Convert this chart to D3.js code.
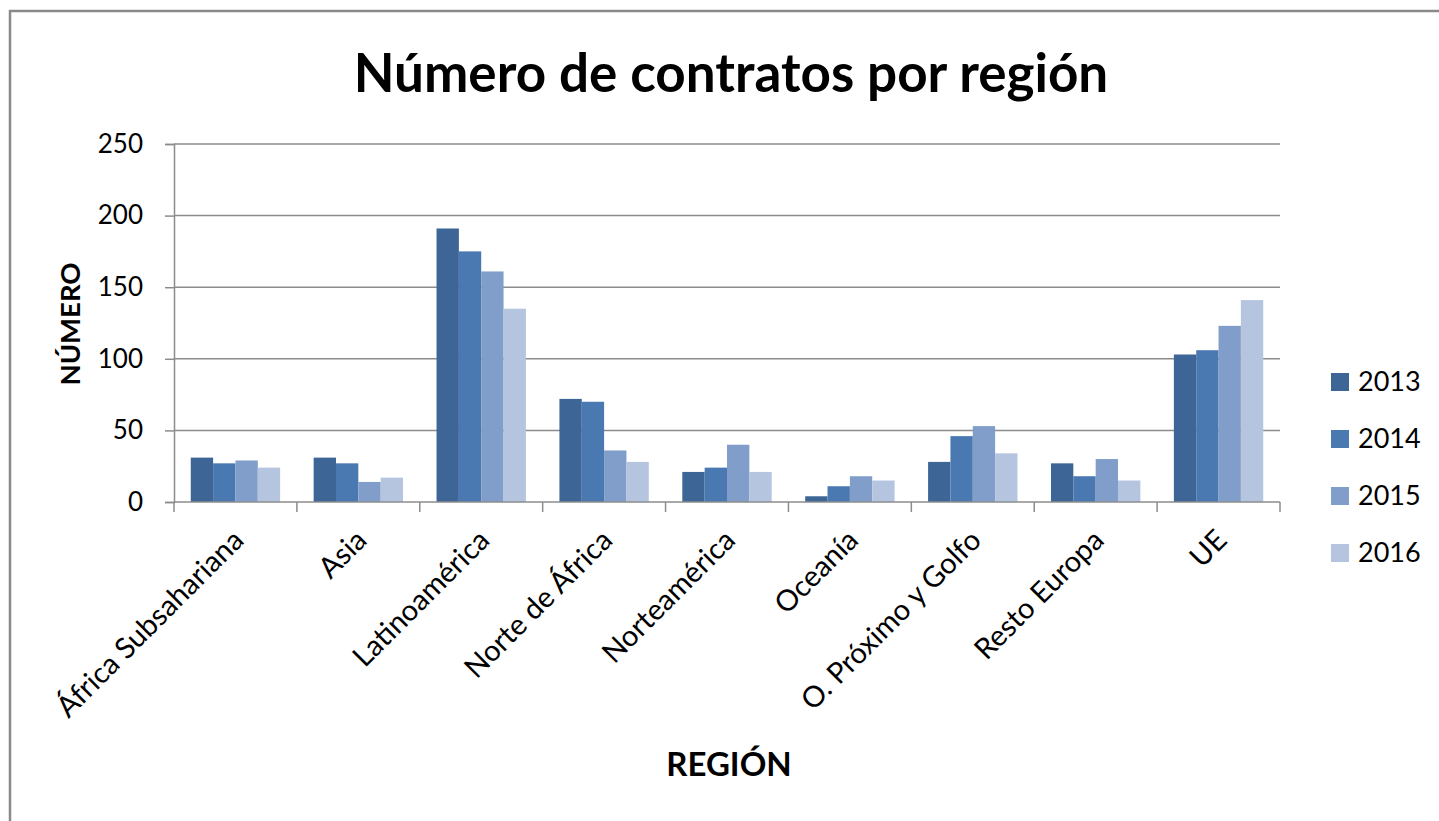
<!DOCTYPE html>
<meta charset="utf-8">
<title>Número de contratos por región</title>
<script src="https://d3js.org/d3.v7.min.js"></script>
<style>
    body { margin: 0; background: #fff; font-family: Lato, "Open Sans", sans-serif; }
    svg text { fill: #000; }
</style>
<body>
<script>
    // data
    var regions = ["África Subsahariana", "Asia", "Latinoamérica", "Norte de África",
        "Norteamérica", "Oceanía", "O. Próximo y Golfo", "Resto Europa", "UE"];
    var years = ["2013", "2014", "2015", "2016"];
    var v2013 = [31, 31, 191, 72, 21, 4, 28, 27, 103];
    var v2014 = [27, 27, 175, 70, 24, 11, 46, 18, 106];
    var v2015 = [29, 14, 161, 36, 40, 18, 53, 30, 123];
    var v2016 = [24, 17, 135, 28, 21, 15, 34, 15, 141];
    var yTicks = [0, 50, 100, 150, 200, 250];
    var colors = ["#3d6596", "#4a78b0", "#809ec9", "#b5c5e0"];

    var series = [v2013, v2014, v2015, v2016];
    var W = 1439, H = 821;
    var m = { left: 174, right: 1280, top: 144, bottom: 502 };

    var svg = d3.select("body").append("svg").attr("width", W).attr("height", H);

    // outer frame (only top + left visible in the crop)
    svg.append("rect").attr("x", 10).attr("y", 11).attr("width", W).attr("height", H)
        .attr("fill", "none").attr("stroke", "#8a8a8a").attr("stroke-width", 2.5);

    var x = d3.scaleBand().domain(regions).range([m.left, m.right]).paddingInner(0).paddingOuter(0);
    var inner = d3.scaleBand().domain(years).range([0, x.bandwidth()]).paddingInner(0).paddingOuter(0.75);
    var y = d3.scaleLinear().domain([0, 250]).range([m.bottom, m.top]);

    // gridlines
    svg.append("g").selectAll("line").data(yTicks.slice(1)).join("line")
        .attr("x1", m.left).attr("x2", m.right)
        .attr("y1", d => y(d)).attr("y2", d => y(d))
        .attr("stroke", "#8c8c8c").attr("stroke-width", 1.5);

    // bars
    var rows = regions.map((r, i) => ({ region: r, vals: series.map(s => s[i]) }));
    svg.append("g").selectAll("g").data(rows).join("g")
        .attr("transform", d => "translate(" + x(d.region) + ",0)")
        .selectAll("rect").data(d => d.vals.map((v, j) => ({ year: years[j], v: v, j: j })))
        .join("rect")
        .attr("x", d => inner(d.year))
        .attr("width", inner.bandwidth())
        .attr("y", d => y(d.v))
        .attr("height", d => y(0) - y(d.v))
        .attr("fill", d => colors[d.j]);

    // y axis
    var yAxis = svg.append("g").attr("transform", "translate(" + m.left + ",0)")
        .call(d3.axisLeft(y).tickValues(yTicks).tickSize(9).tickPadding(22));
    yAxis.select(".domain").attr("stroke", "#8c8c8c").attr("stroke-width", 1.5);
    yAxis.selectAll(".tick line").attr("stroke", "#8c8c8c").attr("stroke-width", 1.5);
    yAxis.selectAll(".tick text").style("font-family", "Lato").style("font-size", "26px").attr("fill", "#000");

    // x axis: ticks at band boundaries
    var bounds = regions.map(r => x(r)).concat([m.right]);
    var xg = svg.append("g");
    xg.append("line").attr("x1", m.left).attr("x2", m.right).attr("y1", m.bottom).attr("y2", m.bottom)
        .attr("stroke", "#8c8c8c").attr("stroke-width", 1.5);
    xg.selectAll("line.tk").data(bounds).join("line").attr("class", "tk")
        .attr("x1", d => d).attr("x2", d => d).attr("y1", m.bottom).attr("y2", m.bottom + 10)
        .attr("stroke", "#8c8c8c").attr("stroke-width", 1.5);
    xg.selectAll("text").data(regions).join("text")
        .attr("transform", d => "translate(" + (x(d) + x.bandwidth() / 2 + 10) + "," + (m.bottom + 40) + ") rotate(-45)")
        .attr("text-anchor", "end")
        .style("font-family", "Lato").style("font-size", "29px")
        .text(d => d);

    // titles
    svg.append("text").attr("x", 731).attr("y", 92).attr("text-anchor", "middle")
        .style("font-family", "Lato").style("font-weight", "bold").style("font-size", "53px")
        .text("Número de contratos por región");
    svg.append("text").attr("x", 729).attr("y", 776).attr("text-anchor", "middle")
        .style("font-family", "Lato").style("font-weight", "bold").style("font-size", "33px")
        .text("REGIÓN");
    svg.append("text").attr("transform", "translate(80,324) rotate(-90)").attr("text-anchor", "middle")
        .style("font-family", "Lato").style("font-weight", "bold").style("font-size", "27.5px")
        .text("NÚMERO");

    // legend
    var lg = svg.append("g").selectAll("g").data(years).join("g")
        .attr("transform", (d, i) => "translate(1331," + (373 + i * 57) + ")");
    lg.append("rect").attr("width", 18).attr("height", 18).attr("fill", (d, i) => colors[i]);
    lg.append("text").attr("x", 27).attr("y", 18)
        .style("font-family", "Lato").style("font-size", "27px").text(d => d);
</script>
</body>
